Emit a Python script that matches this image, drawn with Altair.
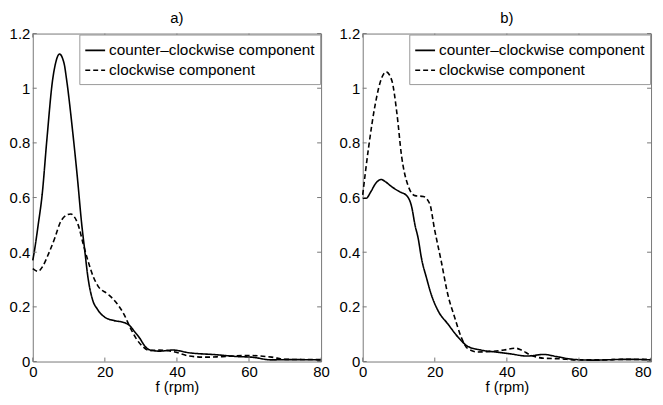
import altair as alt
import pandas as pd

FONT = "Liberation Sans"
names = ["counter–clockwise component", "clockwise component"]
xticks = [0, 20, 40, 60, 80]
yticks = [0, 0.2, 0.4, 0.6, 0.8, 1.0, 1.2]

# panel a) counter-clockwise (solid)
fa_ccw = [0, 0.4, 1.5, 2.6, 3.9, 5.5, 6.3, 7.4, 8.7, 9.4, 11.0, 12.4, 13.6, 14.3, 15.4, 16.5, 18, 20,
          22.5, 25.5, 27, 28.2, 29.7, 31, 32.4, 35.2, 38.8, 43.4, 50.7, 57, 60.7, 66.3, 70.9, 80]
va_ccw = [0.37, 0.40, 0.50, 0.61, 0.81, 1.03, 1.09, 1.125, 1.09, 1.03, 0.85, 0.67, 0.50, 0.42, 0.30, 0.23,
          0.19, 0.162, 0.15, 0.142, 0.13, 0.11, 0.085, 0.058, 0.043, 0.038, 0.042, 0.032, 0.025, 0.018,
          0.016, 0.006, 0.007, 0.006]
# panel a) clockwise (dashed)
fa_cw = [0, 1.5, 2.6, 4.4, 6.2, 7.5, 9.6, 10.6, 11.5, 12.6, 14, 15.4, 16.8, 18.1, 20.9, 23.2, 25.5, 27,
         28.7, 30.5, 32.4, 35, 38.8, 43.4, 48, 52.6, 59.9, 66.3, 70, 80]
va_cw = [0.34, 0.33, 0.345, 0.395, 0.455, 0.505, 0.537, 0.54, 0.53, 0.50, 0.43, 0.365, 0.31, 0.276, 0.246,
         0.215, 0.168, 0.125, 0.084, 0.055, 0.040, 0.042, 0.037, 0.02, 0.016, 0.018, 0.022, 0.016, 0.008,
         0.007]

# panel b) counter-clockwise (solid)
fb_ccw = [0, 1.0, 2.2, 3.5, 5.1, 6.5, 8.0, 10.3, 12.2, 13.6, 14.5, 15.4, 16.3, 17.7, 19.0, 20.9, 23.6,
          26.4, 29.1, 32.8, 37.4, 41, 45.6, 50.2, 53.8, 58.4, 63.9, 73, 80]
vb_ccw = [0.598, 0.598, 0.62, 0.65, 0.666, 0.656, 0.64, 0.621, 0.607, 0.565, 0.50, 0.45, 0.378, 0.306,
          0.246, 0.186, 0.138, 0.09, 0.056, 0.042, 0.034, 0.028, 0.02, 0.026, 0.018, 0.008, 0.005, 0.008,
          0.006]
# panel b) clockwise (dashed)
fb_cw = [0, 1.6, 3.5, 5.3, 6.5, 8.1, 9.5, 10.8, 12.6, 14.5, 16.8, 18.6, 19.9, 21.8, 23.6, 25.5, 27.3,
         29.1, 31.9, 35.5, 39.2, 42.4, 44, 46.5, 50.2, 54.8, 59.3, 66, 73, 80]
vb_cw = [0.61, 0.78, 0.943, 1.039, 1.06, 1.027, 0.907, 0.75, 0.643, 0.607, 0.604, 0.577, 0.486, 0.366,
         0.246, 0.162, 0.09, 0.048, 0.035, 0.037, 0.042, 0.049, 0.042, 0.024, 0.012, 0.01, 0.006, 0.006,
         0.008, 0.008]

W, H = 291, 331
GRAY = "#777777"

AX = dict(domain=False, ticks=False, grid=False, labelFontSize=15, labelFont=FONT, labelColor="black",
          labelPadding=3, labelFlush=False, titleFontSize=15, titleFont=FONT,
          titleFontWeight="normal", titleColor="black", titlePadding=0)


def panel(f1, v1, f2, v2, label, last_right=False):
    df = pd.DataFrame({
        "f": f1 + f2,
        "v": v1 + v2,
        "series": [names[0]] * len(f1) + [names[1]] * len(f2),
    })
    xs = alt.Scale(domain=[0, 80], nice=False)
    ys = alt.Scale(domain=[0, 1.2], nice=False)
    xkw = dict(AX)
    if last_right:
        xkw["labelAlign"] = {"condition": {"test": "datum.value >= 80", "value": "right"},
                             "value": "center"}
    xax = alt.Axis(values=xticks, title="f (rpm)", **xkw)
    yax = alt.Axis(values=yticks, title=None, format="~g", minExtent=24, maxExtent=24, **AX)
    lines = alt.Chart(df).mark_line(color="black", strokeWidth=1.6, interpolate="monotone").encode(
        x=alt.X("f:Q", scale=xs, axis=xax),
        y=alt.Y("v:Q", scale=ys, axis=yax),
        strokeDash=alt.StrokeDash(
            "series:N",
            scale=alt.Scale(domain=names, range=[[1, 0], [5, 3]]),
            legend=alt.Legend(title=None, orient="top-right", offset=1, padding=5,
                              strokeColor="#999999", fillColor="white",
                              symbolType="stroke", symbolSize=400, symbolStrokeWidth=1.6,
                              symbolStrokeColor="black", labelFontSize=15.5, labelFont=FONT,
                              labelColor="black",
                              labelOffset=3, rowPadding=0, labelLimit=400),
        ),
    )
    xt = pd.DataFrame({"f": xticks})
    yt = pd.DataFrame({"v": yticks})
    top = alt.Chart(xt).mark_rule(color=GRAY).encode(
        x=alt.X("f:Q", scale=xs, axis=xax), y=alt.value(0), y2=alt.value(4))
    bot = alt.Chart(xt).mark_rule(color=GRAY).encode(
        x=alt.X("f:Q", scale=xs, axis=xax), y=alt.value(H - 4), y2=alt.value(H))
    left = alt.Chart(yt).mark_rule(color=GRAY).encode(
        y=alt.Y("v:Q", scale=ys, axis=yax), x=alt.value(0), x2=alt.value(4))
    right = alt.Chart(yt).mark_rule(color=GRAY).encode(
        y=alt.Y("v:Q", scale=ys, axis=yax), x=alt.value(W - 4), x2=alt.value(W))
    return alt.layer(lines, top, bot, left, right).properties(
        width=W, height=H,
        title=alt.Title(label, fontSize=15, fontWeight="normal", font=FONT, offset=1, color="black"),
    )


chart = alt.hconcat(
    panel(fa_ccw, va_ccw, fa_cw, va_cw, "a)"),
    panel(fb_ccw, vb_ccw, fb_cw, vb_cw, "b)", last_right=True),
    spacing=8,
).resolve_legend(strokeDash="independent").properties(padding=0).configure_view(
    stroke=GRAY, strokeWidth=1
)

chart.save("out.html", embed_options={"renderer": "svg", "actions": False})
